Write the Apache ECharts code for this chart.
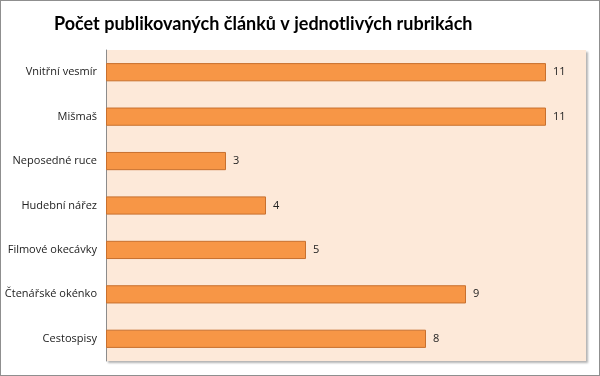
<!DOCTYPE html>
<html>
<head>
<meta charset="utf-8">
<script src="https://cdn.jsdelivr.net/npm/echarts@6/dist/echarts.min.js"></script>
<style>
  html, body { margin: 0; padding: 0; background: #fff; }
  #chart { width: 600px; height: 376px; box-sizing: border-box; border: 1px solid #8f8f8f; }
</style>
</head>
<body>
<div id="chart"></div>
<script>
// rubriky shora dolů
var categories = ['Vnitřní vesmír', 'Mišmaš', 'Neposedné ruce', 'Hudební nářez', 'Filmové okecávky', 'Čtenářské okénko', 'Cestospisy'];
var values = [11, 11, 3, 4, 5, 9, 8];

var myChart = echarts.init(document.getElementById('chart'));

var option = {
    animation: false,
    title: {
        text: 'Počet publikovaných článků v jednotlivých rubrikách',
        left: 48,
        top: 9,
        textStyle: { fontFamily: 'Lato', fontWeight: 'bold', fontSize: 18, color: '#000' }
    },
    grid: {
        left: 105, top: 49, width: 480, height: 311,
        show: true,
        backgroundColor: '#fde9d9',
        borderWidth: 0,
        shadowColor: 'rgba(0,0,0,0.3)',
        shadowOffsetX: 2,
        shadowOffsetY: 2,
        shadowBlur: 2
    },
    xAxis: {
        type: 'value',
        min: 0,
        max: 12,
        axisLine: { show: false },
        axisTick: { show: false },
        axisLabel: { show: false },
        splitLine: { show: false }
    },
    yAxis: {
        type: 'category',
        data: categories,
        inverse: true,
        axisLine: { show: true, lineStyle: { color: '#8c8c8c' } },
        axisTick: { show: false },
        axisLabel: { margin: 9, fontFamily: 'Open Sans', fontSize: 11, color: '#222' }
    },
    series: [{
        type: 'bar',
        data: values,
        barCategoryGap: '59%',
        itemStyle: { color: '#f79646', borderColor: '#c8702e', borderWidth: 1 },
        label: { show: true, position: 'right', distance: 7, fontFamily: 'Open Sans', fontSize: 11, color: '#222' }
    }]
};

myChart.setOption(option);
</script>
</body>
</html>
